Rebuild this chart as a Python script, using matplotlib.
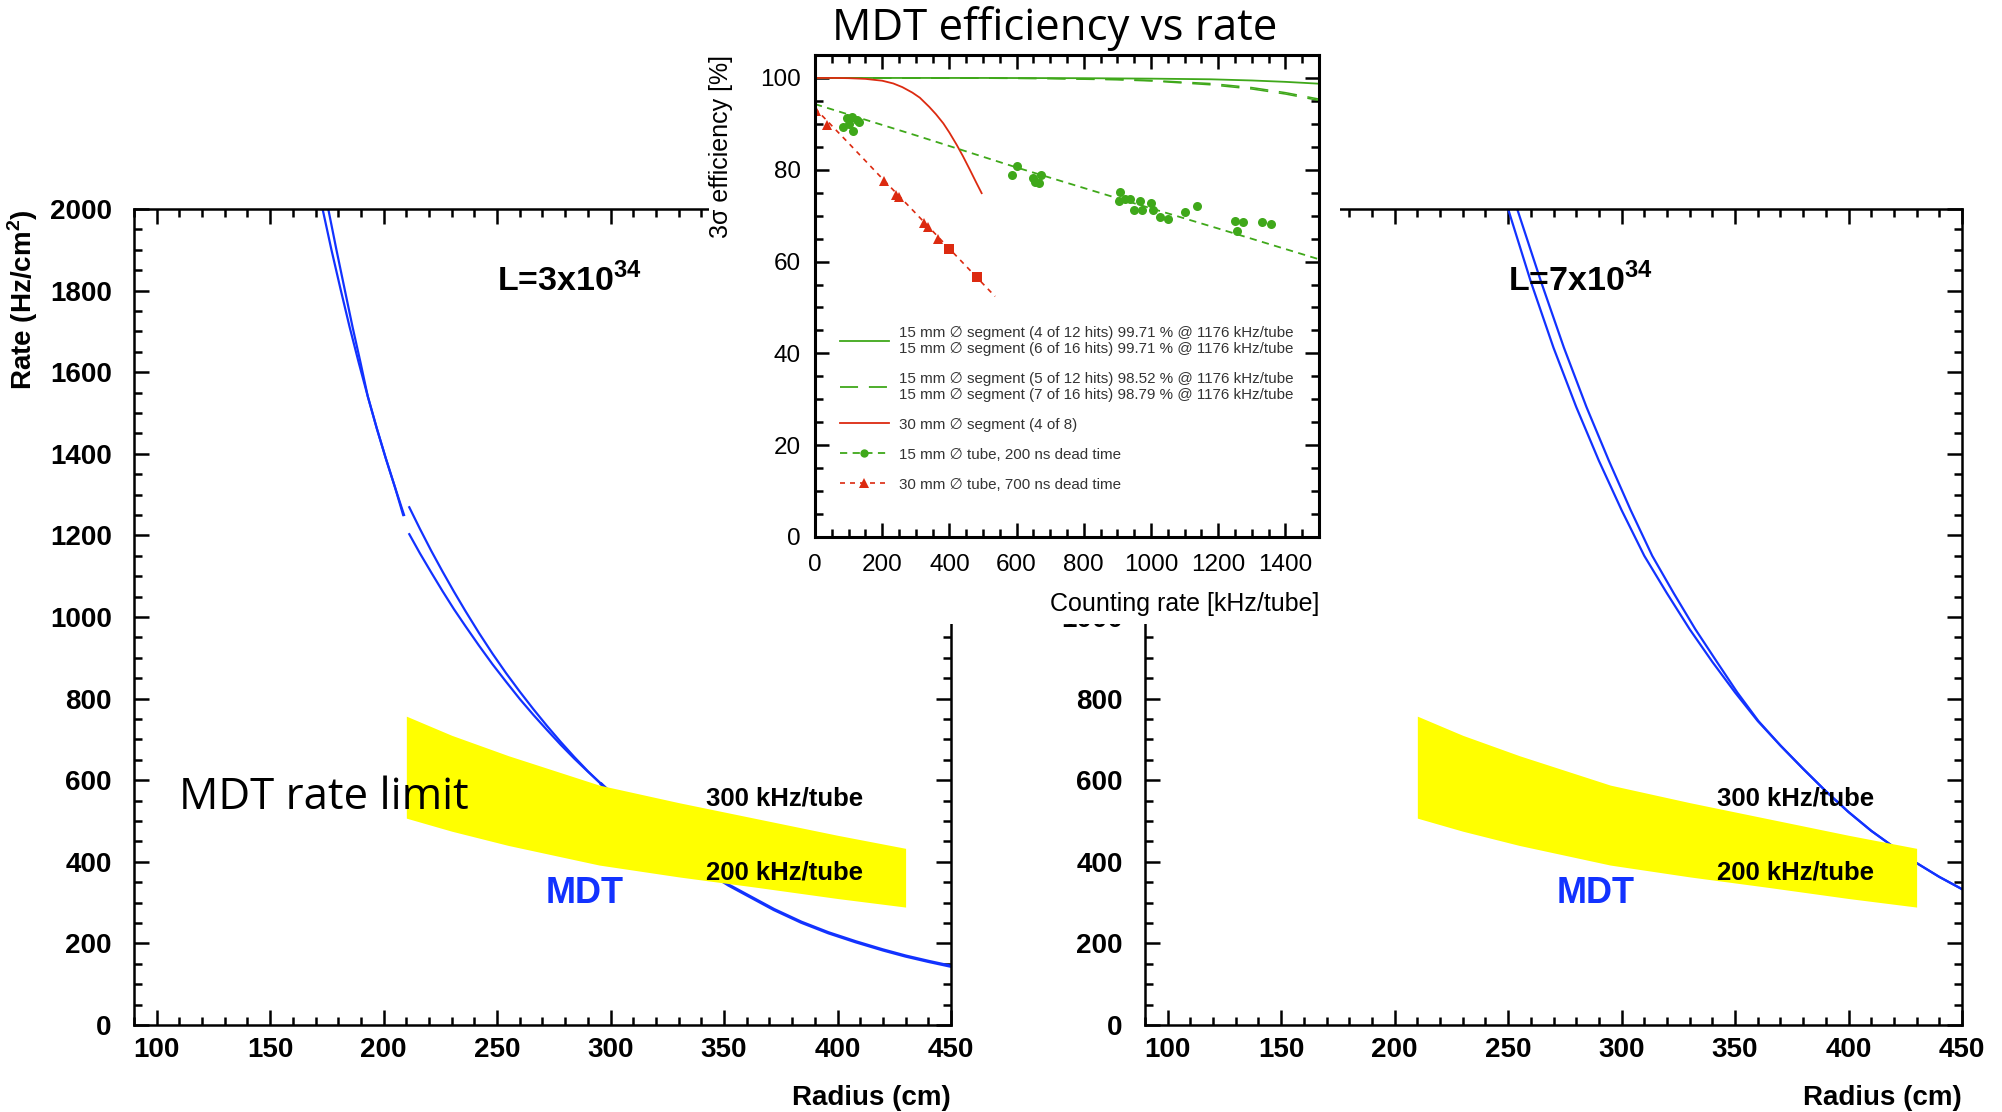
import numpy as np
import matplotlib
matplotlib.use("Agg")
from matplotlib import pyplot as plt
from matplotlib.patches import Rectangle
from matplotlib.ticker import MultipleLocator, FuncFormatter
from matplotlib.lines import Line2D

plt.rcParams['font.family'] = ['Liberation Sans', 'DejaVu Sans']
plt.rcParams['mathtext.fontset'] = 'custom'
plt.rcParams['mathtext.rm'] = 'Liberation Sans'
plt.rcParams['mathtext.bf'] = 'Liberation Sans:bold'

# --- MDT rate vs radius, L=3x10^34 (two curves, split at r=210 cm)
r3_a_in = [173.1, 177, 181, 185, 189, 193, 197, 201, 205, 209]
y3_a_in = [2000, 1900, 1804, 1711, 1624, 1541, 1462, 1388, 1318, 1250]
r3_b_in = [175.6, 179.2, 182.8, 186.3, 189.8, 193, 197, 201, 205, 208.6]
y3_b_in = [2000, 1900, 1804, 1711, 1624, 1541, 1462, 1388, 1318, 1250]
r3_a_out = [211.3, 216, 221, 226, 231, 236, 242, 248, 254, 260, 266, 272, 278, 284, 290, 296]
y3_a_out = [1269, 1216, 1162, 1111, 1062, 1015, 961, 910, 862, 817, 774, 733, 694, 657, 622, 590]
r3_b_out = [211.3, 216, 221, 226, 231, 236, 242, 248, 254, 260, 266, 272, 278, 284, 290, 296]
y3_b_out = [1203, 1156, 1109, 1063, 1019, 978, 930, 884, 841, 799, 760, 723, 687, 653, 621, 590]
r3_tail = [296, 306, 316, 326, 336, 346, 352, 362, 372, 384, 396, 408, 420, 430, 440, 450]
y3_tail = [590, 538, 490, 446, 405, 364, 343, 313, 283, 252, 226, 204, 184, 169, 156, 144]

# --- MDT rate vs radius, L=7x10^34
r7_a = [250, 260, 270, 280, 290, 300, 310, 320, 330, 340, 350,
        360, 370, 380, 390, 400, 410, 420, 430, 440, 450]
y7_a = [2000, 1822, 1660, 1515, 1383, 1262, 1150, 1058, 970, 890, 815,
        745, 685, 628, 573, 522, 476, 436, 397, 363, 333]
r7_b = [254, 264.5, 274.6, 284.5, 294.4, 304, 313.5, 323, 332.5, 342, 351,
        360.3, 370, 380, 390, 400, 410, 420, 430, 440, 450]
y7_b = [2000, 1822, 1660, 1515, 1383, 1262, 1150, 1058, 970, 890, 815,
        745, 685, 628, 573, 522, 476, 436, 397, 363, 333]

# --- rate limit band (300 / 200 kHz per tube)
band_r = [210, 230, 255, 295, 330, 365, 400, 430]
band_300 = [757, 710, 660, 588, 545, 505, 465, 433]
band_200 = [507, 475, 440, 392, 363, 337, 310, 289]

# --- inset: efficiency vs counting rate
seg15_x = [0, 500, 800, 1000, 1176, 1300, 1400, 1500]
seg15_y = [100, 100, 99.95, 99.85, 99.71, 99.45, 99.15, 98.75]
seg15_5of12_x = [0, 400, 700, 900, 1000, 1176, 1300, 1400, 1500]
seg15_5of12_y = [100, 100, 99.85, 99.6, 99.35, 98.52, 97.6, 96.5, 95.1]
seg15_7of16_x = [0, 400, 700, 900, 1000, 1176, 1300, 1400, 1500]
seg15_7of16_y = [100, 100, 99.9, 99.7, 99.45, 98.79, 97.9, 96.8, 95.4]
seg30_x = [0, 60, 100, 150, 200, 233, 260, 290, 312, 340, 360, 382, 400,
           422, 440, 461, 480, 496]
seg30_y = [100, 100, 99.95, 99.8, 99.4, 98.8, 98.0, 96.8, 95.7, 93.7, 92.1,
           90.1, 88.1, 85.4, 83.0, 80.0, 77.2, 74.9]

tube15_x = [0, 300, 600, 900, 1200, 1500]
tube15_y = [94.3, 87.5, 80.5, 73.8, 67.2, 60.5]
tube15_mx = [84, 94, 109, 124, 132, 114, 102,
             585, 602, 650, 672, 668, 655,
             909, 904, 922, 937, 949, 966, 973, 1001, 1005, 1026, 1052,
             1102, 1138, 1249, 1273, 1255, 1331, 1356]
tube15_my = [89.4, 91.2, 91.6, 90.8, 90.3, 88.5, 90.0,
             78.9, 80.9, 78.1, 78.8, 77.2, 77.4,
             75.2, 73.1, 73.6, 73.6, 71.2, 73.1, 71.2, 72.8, 71.2, 69.8, 69.3,
             70.7, 72.0, 68.8, 68.6, 66.7, 68.6, 68.1]

tube30_x = [0, 100, 200, 300, 400, 536]
tube30_y = [93.4, 85.8, 78.1, 70.5, 62.8, 52.4]
tube30_tx = [3, 35, 205, 241, 249, 325, 337, 367]
tube30_ty = [92.7, 89.8, 77.6, 74.4, 74.1, 68.5, 67.5, 64.9]
tube30_sx = [400, 483]
tube30_sy = [62.7, 56.6]

legend_labels = [
    "15 mm \u2205 segment (4 of 12 hits) 99.71 % @ 1176 kHz/tube\n"
    "15 mm \u2205 segment (6 of 16 hits) 99.71 % @ 1176 kHz/tube",
    "15 mm \u2205 segment (5 of 12 hits) 98.52 % @ 1176 kHz/tube\n"
    "15 mm \u2205 segment (7 of 16 hits) 98.79 % @ 1176 kHz/tube",
    "30 mm \u2205 segment (4 of 8)",
    "15 mm \u2205 tube, 200 ns dead time",
    "30 mm \u2205 tube, 700 ns dead time",
]

blue = '#1232ff'
yellow = '#ffff00'
green = '#3fa81a'
red = '#dc2a10'

fig = plt.figure(figsize=(20.02, 11.12), dpi=100)


def rate_panel(ax, lumi):
    ax.fill_between(band_r, band_200, band_300, color=yellow, lw=0, zorder=3)
    ax.set_xlim(90, 450)
    ax.set_ylim(0, 2000)
    ax.xaxis.set_major_locator(MultipleLocator(50))
    ax.xaxis.set_minor_locator(MultipleLocator(10))
    ax.yaxis.set_major_locator(MultipleLocator(200))
    ax.yaxis.set_minor_locator(MultipleLocator(50))
    ax.tick_params(which='both', direction='in', top=True, right=True, width=1.8)
    ax.tick_params(which='major', length=11)
    ax.tick_params(which='minor', length=5.5)
    ax.tick_params(axis='x', pad=8.5)
    ax.tick_params(axis='y', pad=16)
    for lab in ax.get_xticklabels() + ax.get_yticklabels():
        lab.set_fontsize(20)
        lab.set_fontweight('bold')
    for s in ax.spines.values():
        s.set_linewidth(1.8)
    ax.set_xlabel('Radius (cm)', fontsize=20, fontweight='bold', loc='right')
    ax.xaxis.set_label_coords(1.0, -0.073)
    ax.text(250, 1800, r'L=%dx10$^{\mathbf{34}}$' % lumi, fontsize=24.5,
            fontweight='bold', va='baseline', zorder=4)
    ax.text(271.5, 300, 'MDT', color=blue, fontsize=26, fontweight='bold',
            va='baseline', zorder=4)
    ax.text(342, 537, '300 kHz/tube', fontsize=18.5, fontweight='bold',
            va='baseline', zorder=4)
    ax.text(342, 357, '200 kHz/tube', fontsize=18.5, fontweight='bold',
            va='baseline', zorder=4)


ax1 = fig.add_axes([0.06693, 0.07824, 0.40809, 0.73381])
ax1.plot(r3_a_in, y3_a_in, color=blue, lw=1.6, zorder=2)
ax1.plot(r3_b_in, y3_b_in, color=blue, lw=1.6, zorder=2)
ax1.plot(r3_a_out, y3_a_out, color=blue, lw=1.6, zorder=2)
ax1.plot(r3_b_out, y3_b_out, color=blue, lw=1.6, zorder=2)
ax1.plot(r3_tail, y3_tail, color=blue, lw=2.4, zorder=2)
rate_panel(ax1, 3)
ax1.set_ylabel(r'Rate (Hz/cm$^\mathbf{2}$)', fontsize=20, fontweight='bold', loc='top')
ax1.yaxis.set_label_coords(-0.115, 1.0)
ax1.text(110, 529, 'MDT rate limit', fontsize=31.5, family='Open Sans',
         va='baseline', zorder=5)

ax2 = fig.add_axes([0.57193, 0.07824, 0.40809, 0.73381])
ax2.plot(r7_a, y7_a, color=blue, lw=1.6, zorder=2)
ax2.plot(r7_b, y7_b, color=blue, lw=1.6, zorder=2)
rate_panel(ax2, 7)
# upper labels of this axis sit behind the efficiency panel
ax2.yaxis.set_major_formatter(FuncFormatter(lambda v, p: '' if v > 1000 else '%d' % v))

# white backing behind the efficiency plot
box = Rectangle((709 / 2002, 1 - 624 / 1112), (1340 - 709) / 2002, 624 / 1112,
                transform=fig.transFigure, facecolor='white', edgecolor='none',
                zorder=1)
fig.add_artist(box)

ax3 = fig.add_axes([0.40709, 0.51709, 0.25175, 0.43345])
ax3.set_zorder(2)
ax3.plot(seg15_x, seg15_y, color=green, lw=1.3)
ax3.plot(seg15_5of12_x, seg15_5of12_y, color=green, lw=1.1, dashes=(12, 7))
ax3.plot(seg15_7of16_x, seg15_7of16_y, color=green, lw=1.1, dashes=(12, 7))
ax3.plot(seg30_x, seg30_y, color=red, lw=1.3)
ax3.plot(tube15_x, tube15_y, color=green, lw=1.3, dashes=(4, 3))
ax3.plot(tube15_mx, tube15_my, 'o', color=green, ms=6.5, mew=0)
ax3.plot(tube30_x, tube30_y, color=red, lw=1.2, dashes=(3, 3))
ax3.plot(tube30_tx, tube30_ty, '^', color=red, ms=7.5, mew=0)
ax3.plot(tube30_sx, tube30_sy, 's', color=red, ms=6.5, mew=0)

ax3.set_xlim(0, 1500)
ax3.set_ylim(0, 105)
ax3.xaxis.set_major_locator(MultipleLocator(200))
ax3.xaxis.set_minor_locator(MultipleLocator(50))
ax3.yaxis.set_major_locator(MultipleLocator(20))
ax3.yaxis.set_minor_locator(MultipleLocator(5))
ax3.tick_params(which='both', direction='in', top=True, right=True, width=1.8,
                labelsize=17.5)
ax3.tick_params(which='major', length=10)
ax3.tick_params(which='minor', length=5.5)
ax3.tick_params(axis='x', pad=12.5)
ax3.tick_params(axis='y', pad=10)
for s in ax3.spines.values():
    s.set_linewidth(2.2)
ax3.set_xlabel('Counting rate [kHz/tube]', fontsize=18, loc='right')
ax3.xaxis.set_label_coords(1.0, -0.115)
ax3.set_ylabel('3\u03c3 efficiency [%]', fontsize=18, loc='top')
ax3.yaxis.set_label_coords(-0.163, 1.0)

handles = [
    Line2D([], [], color=green, lw=1.3),
    Line2D([], [], color=green, lw=1.3, dashes=(10, 6)),
    Line2D([], [], color=red, lw=1.3),
    Line2D([], [], color=green, lw=1.3, dashes=(4, 3), marker='o', ms=6, mew=0),
    Line2D([], [], color=red, lw=1.2, dashes=(3, 3), marker='^', ms=7, mew=0),
]
ax3.legend(handles, legend_labels, loc='upper left', bbox_to_anchor=(0.05, 0.4386),
           frameon=False, prop={'family': ['Liberation Sans', 'DejaVu Sans'], 'size': 10.9},
           handlelength=3.2, handletextpad=0.7, labelspacing=1.05, borderpad=0,
           borderaxespad=0, labelcolor='#333333', numpoints=1)

fig.text(0.5267, 0.964, 'MDT efficiency vs rate', ha='center', va='baseline',
         fontsize=31.5, family='Open Sans')

fig.savefig('out.png', dpi=100)
